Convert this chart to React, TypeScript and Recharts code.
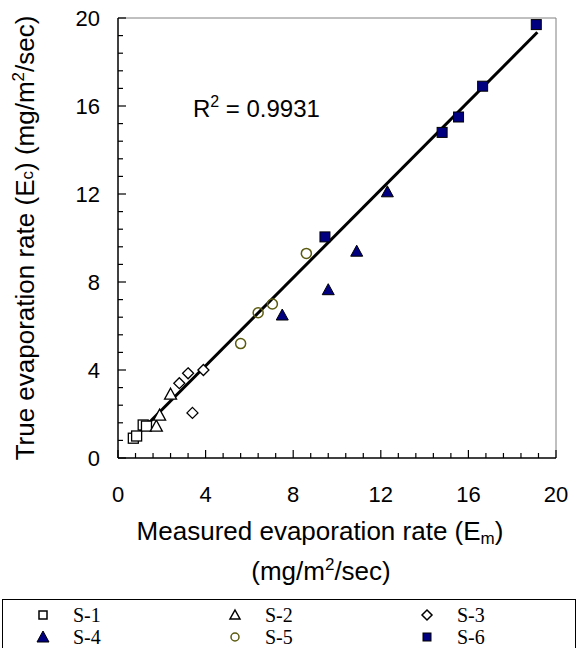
import React from "react";
import {
  ScatterChart,
  Scatter,
  XAxis,
  YAxis,
  ReferenceLine,
  ReferenceDot,
  Legend,
} from "recharts";

// measured (Em) vs true (Ec) evaporation rate, mg/m2/sec
const s1 = [
  { x: 0.7, y: 0.9 },
  { x: 0.85, y: 1.0 },
  { x: 1.15, y: 1.5 },
  { x: 1.3, y: 1.45 },
];
const s2 = [
  { x: 1.75, y: 1.45 },
  { x: 1.9, y: 1.95 },
  { x: 2.4, y: 2.9 },
];
const s3 = [
  { x: 2.8, y: 3.4 },
  { x: 3.2, y: 3.85 },
  { x: 3.9, y: 4.0 },
  { x: 3.4, y: 2.05 },
];
const s4 = [
  { x: 7.5, y: 6.5 },
  { x: 9.6, y: 7.65 },
  { x: 10.9, y: 9.4 },
  { x: 12.3, y: 12.1 },
];
const s5 = [
  { x: 5.6, y: 5.2 },
  { x: 6.4, y: 6.6 },
  { x: 7.05, y: 7.0 },
  { x: 8.6, y: 9.3 },
];
const s6 = [
  { x: 9.45, y: 10.05 },
  { x: 14.8, y: 14.8 },
  { x: 15.55, y: 15.5 },
  { x: 16.65, y: 16.9 },
  { x: 19.1, y: 19.7 },
];
const fitLine = [
  { x: 0.55, y: 0.74 },
  { x: 19.15, y: 19.35 },
];

const majorTicks = [0, 4, 8, 12, 16, 20];
const minorTicks = Array.from({ length: 26 }, (_, i) => Math.round(i * 8) / 10);
const r2Text = "0.9931";

const SANS = "'Liberation Sans', Arial, sans-serif";
const SERIF = "'Liberation Serif', 'Times New Roman', serif";
const NAVY = "#000080";
const OLIVE = "#5a5a10";

const OpenSquare = ({ cx, cy }: any) => (
  <rect x={cx - 5} y={cy - 5} width={10} height={10} fill="#fff" stroke="#000" strokeWidth={1.3} />
);
const OpenTriangle = ({ cx, cy }: any) => (
  <polygon
    points={`${cx},${cy - 6} ${cx + 6},${cy + 5} ${cx - 6},${cy + 5}`}
    fill="#fff"
    stroke="#000"
    strokeWidth={1.3}
  />
);
const OpenDiamond = ({ cx, cy }: any) => (
  <polygon
    points={`${cx},${cy - 5.5} ${cx + 5.5},${cy} ${cx},${cy + 5.5} ${cx - 5.5},${cy}`}
    fill="#fff"
    stroke="#000"
    strokeWidth={1.3}
  />
);
const NavyTriangle = ({ cx, cy }: any) => (
  <polygon
    points={`${cx},${cy - 6} ${cx + 6},${cy + 5} ${cx - 6},${cy + 5}`}
    fill={NAVY}
    stroke="#000"
    strokeWidth={1}
  />
);
const OliveCircle = ({ cx, cy }: any) => (
  <circle cx={cx} cy={cy} r={5} fill="none" stroke={OLIVE} strokeWidth={1.5} />
);
const NavySquare = ({ cx, cy }: any) => (
  <rect x={cx - 5} y={cy - 5} width={10} height={10} fill={NAVY} stroke="#000" strokeWidth={1} />
);
const NoDot = () => <g />;

const XTick = ({ x, y, payload }: any) => {
  const major = majorTicks.includes(payload.value);
  return (
    <g>
      <line x1={x} x2={x} y1={y} y2={y - (major ? 8 : 5)} stroke="#000" strokeWidth={1.2} />
      {major && (
        <text x={x} y={y + 44} textAnchor="middle" fontFamily={SANS} fontSize={22} fill="#000">
          {payload.value}
        </text>
      )}
    </g>
  );
};

const YTick = ({ x, y, payload }: any) => {
  const major = majorTicks.includes(payload.value);
  return (
    <g>
      <line x1={x} x2={x + (major ? 8 : 5)} y1={y} y2={y} stroke="#000" strokeWidth={1.2} />
      {major && (
        <text x={x - 18} y={y + 8} textAnchor="end" fontFamily={SANS} fontSize={22} fill="#000">
          {payload.value}
        </text>
      )}
    </g>
  );
};

const XTitle = ({ viewBox }: any) => {
  const cx = viewBox.x + viewBox.width / 2 - 17;
  return (
    <g fontFamily={SANS} fill="#000">
      <text x={cx} y={540} textAnchor="middle" fontSize={26}>
        Measured evaporation rate (E
        <tspan fontSize={17} dy={4}>m</tspan>
        <tspan dy={-4}>)</tspan>
      </text>
      <text x={cx + 1} y={580} textAnchor="middle" fontSize={26}>
        (mg/m
        <tspan fontSize={17} dy={-10}>2</tspan>
        <tspan dy={10}>/sec)</tspan>
      </text>
    </g>
  );
};

const YTitle = ({ viewBox }: any) => {
  const cy = viewBox.y + viewBox.height / 2;
  return (
    <text
      x={34}
      y={cy}
      transform={`rotate(-90 34 ${cy})`}
      textAnchor="middle"
      fontFamily={SANS}
      fontSize={26}
      fill="#000"
    >
      True evaporation rate (E
      <tspan fontSize={17} dy={-1}>c</tspan>
      <tspan dy={1}>) (mg/m</tspan>
      <tspan fontSize={17} dy={-10}>2</tspan>
      <tspan dy={10}>/sec)</tspan>
    </text>
  );
};

const R2Label = ({ viewBox }: any) => (
  <text x={viewBox.x} y={viewBox.y} fontFamily={SANS} fontSize={24} fill="#000">
    R<tspan fontSize={16} dy={-10}>2</tspan>
    <tspan dy={10}> = {r2Text}</tspan>
  </text>
);

const legendItems = [
  { name: "S-1", mark: "openSquare" },
  { name: "S-2", mark: "openTriangle" },
  { name: "S-3", mark: "openDiamond" },
  { name: "S-4", mark: "navyTriangle" },
  { name: "S-5", mark: "oliveCircle" },
  { name: "S-6", mark: "navySquare" },
];

const LegendMark = ({ mark, cx, cy }: any) => {
  switch (mark) {
    case "openSquare":
      return <rect x={cx - 4} y={cy - 4} width={8} height={8} fill="#fff" stroke="#000" strokeWidth={1.5} />;
    case "openTriangle":
      return (
        <polygon
          points={`${cx},${cy - 5} ${cx + 5},${cy + 4} ${cx - 5},${cy + 4}`}
          fill="#fff"
          stroke="#000"
          strokeWidth={1.5}
        />
      );
    case "openDiamond":
      return (
        <polygon
          points={`${cx},${cy - 5} ${cx + 5},${cy} ${cx},${cy + 5} ${cx - 5},${cy}`}
          fill="#fff"
          stroke="#000"
          strokeWidth={1.5}
        />
      );
    case "navyTriangle":
      return (
        <polygon
          points={`${cx},${cy - 6} ${cx + 6},${cy + 5} ${cx - 6},${cy + 5}`}
          fill={NAVY}
          stroke="#000"
          strokeWidth={1}
        />
      );
    case "oliveCircle":
      return <circle cx={cx} cy={cy} r={4} fill="none" stroke={OLIVE} strokeWidth={1.5} />;
    default:
      return <rect x={cx - 4} y={cy - 4} width={8} height={8} fill={NAVY} stroke="#000" strokeWidth={1} />;
  }
};

const LegendBox = () => (
  <svg width={574} height={60} style={{ display: "block" }}>
    <rect x={0.5} y={0.5} width={573} height={70} fill="#fff" stroke="#000" strokeWidth={1} />
    {legendItems.map((item, i) => {
      const col = i % 3;
      const row = Math.floor(i / 3);
      const mx = 41 + col * 192;
      const my = 16 + row * 22;
      return (
        <g key={item.name}>
          <LegendMark mark={item.mark} cx={mx} cy={my} />
          <text x={mx + 30} y={my + 7} fontFamily={SERIF} fontSize={20} fill="#000">
            {item.name}
          </text>
        </g>
      );
    })}
  </svg>
);

export default function App() {
  return (
    <div style={{ position: "absolute", left: 0, top: 0, width: 578, height: 648, background: "#fff" }}>
      <ScatterChart width={578} height={648} margin={{ top: 18, right: 22, left: 0, bottom: 0 }}>
        <XAxis
          type="number"
          dataKey="x"
          domain={[0, 20]}
          ticks={minorTicks}
          interval={0}
          height={130}
          tickSize={0}
          tickMargin={0}
          tick={<XTick />}
          axisLine={{ stroke: "#000", strokeWidth: 1.5 }}
          label={<XTitle />}
        />
        <YAxis
          type="number"
          dataKey="y"
          domain={[0, 20]}
          ticks={minorTicks}
          interval={0}
          width={118}
          tickSize={0}
          tickMargin={0}
          tick={<YTick />}
          axisLine={{ stroke: "#000", strokeWidth: 1.5 }}
          label={<YTitle />}
        />
        <ReferenceLine y={20} stroke="#808080" strokeWidth={1} />
        <ReferenceLine x={20} stroke="#808080" strokeWidth={1} />
        <ReferenceDot x={3.42} y={15.5} r={0} stroke="none" fill="none" label={<R2Label />} />
        <Legend
          verticalAlign="bottom"
          wrapperStyle={{ left: 2, top: 599, width: 574, height: 60 }}
          content={() => <LegendBox />}
        />
        <Scatter name="fit" data={fitLine} line={{ stroke: "#000", strokeWidth: 3 }} shape={<NoDot />} isAnimationActive={false} legendType="none" />
        <Scatter name="S-1" data={s1} shape={<OpenSquare />} isAnimationActive={false} />
        <Scatter name="S-2" data={s2} shape={<OpenTriangle />} isAnimationActive={false} />
        <Scatter name="S-3" data={s3} shape={<OpenDiamond />} isAnimationActive={false} />
        <Scatter name="S-4" data={s4} shape={<NavyTriangle />} isAnimationActive={false} />
        <Scatter name="S-5" data={s5} shape={<OliveCircle />} isAnimationActive={false} />
        <Scatter name="S-6" data={s6} shape={<NavySquare />} isAnimationActive={false} />
      </ScatterChart>
    </div>
  );
}
